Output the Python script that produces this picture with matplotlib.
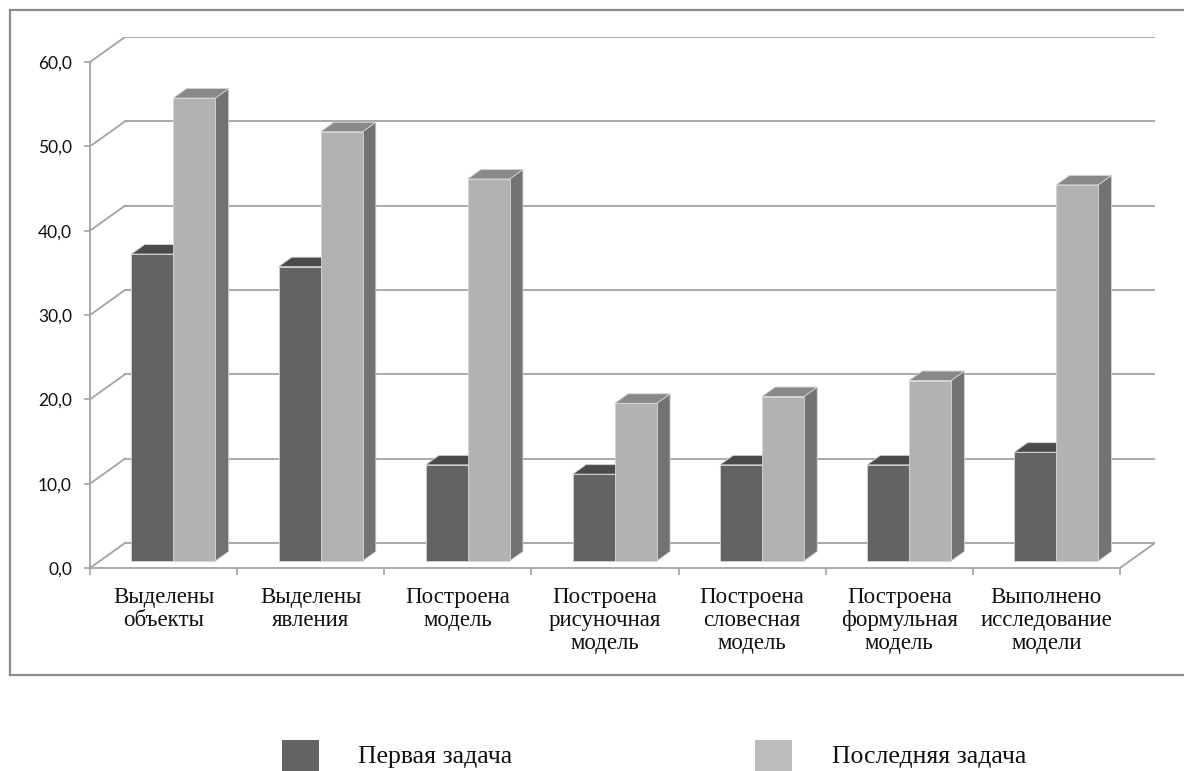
import matplotlib
matplotlib.use("Agg")
import matplotlib.pyplot as plt
from matplotlib.patches import Polygon, Rectangle
from matplotlib.lines import Line2D

# categories and percentages for the two series
categories = [
    "Выделены\nобъекты",
    "Выделены\nявления",
    "Построена\nмодель",
    "Построена\nрисуночная\nмодель",
    "Построена\nсловесная\nмодель",
    "Построена\nформульная\nмодель",
    "Выполнено\nисследование\nмодели",
]
first_task = [36.4, 34.9, 11.4, 10.3, 11.4, 11.4, 12.9]
last_task = [54.9, 50.9, 45.3, 18.7, 19.5, 21.4, 44.6]
series_names = ["Первая задача", "Последняя задача"]
y_ticks = [0, 10, 20, 30, 40, 50, 60]

W, H, DPI = 1184, 771, 100
n = len(categories)
px_x = 147.14          # pixels per category slot
px_y = 8.433           # pixels per value unit
depth = (35 / px_x, 25 / px_y)   # back wall offset in data units
bar_front, bar_back = 0.28, 0.66
bar_w = 0.2855

grid_col = "#a3a3a3"
faces = {
    0: ("#636363", "#4a4a4a", "#575757"),
    1: ("#b2b2b2", "#898989", "#737373"),
}

fig = plt.figure(figsize=(W / DPI, H / DPI), dpi=DPI)
left_px, bottom_px = 90, H - 568
ax = fig.add_axes([left_px / W, bottom_px / H,
                   (n + depth[0]) * px_x / W, (60 + depth[1]) * px_y / H])
ax.set_xlim(0, n + depth[0])
ax.set_ylim(0, 60 + depth[1])
ax.patch.set_visible(False)

# back wall gridlines with the diagonals from the front axis
for v in y_ticks:
    ax.plot([0, depth[0]], [v, v + depth[1]], color=grid_col, lw=1.3, zorder=1)
    ax.plot([depth[0], n + depth[0]], [v + depth[1], v + depth[1]],
            color=grid_col, lw=1.3, zorder=1)
ax.plot([n, n + depth[0]], [0, depth[1]], color=grid_col, lw=1.3, zorder=1)


def draw_bar(x0, h, cols):
    fx, fy = bar_front * depth[0], bar_front * depth[1]
    bx = (bar_back - bar_front) * depth[0]
    by = (bar_back - bar_front) * depth[1]
    xl, xr, yb, yt = x0 + fx, x0 + fx + bar_w, fy, fy + h
    front = [(xl, yb), (xr, yb), (xr, yt), (xl, yt)]
    top = [(xl, yt), (xr, yt), (xr + bx, yt + by), (xl + bx, yt + by)]
    side = [(xr, yb), (xr + bx, yb + by), (xr + bx, yt + by), (xr, yt)]
    for pts, c in ((side, cols[2]), (top, cols[1]), (front, cols[0])):
        ax.add_patch(Polygon(pts, closed=True, facecolor=c,
                             edgecolor="#d4d4d4", lw=0.6, zorder=3))


for i in range(n):
    start = i + 0.5 - bar_w
    draw_bar(start, first_task[i], faces[0])
    draw_bar(start + bar_w, last_task[i], faces[1])

# front axes
for s in ("top", "right"):
    ax.spines[s].set_visible(False)
ax.spines["left"].set_bounds(0, 60)
ax.spines["bottom"].set_bounds(0, n)
for s in ("left", "bottom"):
    ax.spines[s].set_color(grid_col)
    ax.spines[s].set_linewidth(1.3)

ax.set_yticks(y_ticks)
ax.set_yticklabels([f"{v:.1f}".replace(".", ",") for v in y_ticks],
                   fontfamily="Lato", fontsize=12.5, color="#111111")
ax.tick_params(axis="y", length=4, width=1.2, color=grid_col, pad=9)

ax.set_xticks(range(n + 1))
ax.set_xticklabels([])
ax.tick_params(axis="x", which="major", length=5, width=1.2, color=grid_col)
ax.set_xticks([i + 0.5 for i in range(n)], minor=True)
ax.set_xticklabels(categories, minor=True, fontfamily="Liberation Serif",
                   fontsize=16.5, color="#111111", linespacing=1.12,
                   multialignment="center")
ax.tick_params(axis="x", which="minor", length=0, pad=14)

# chart frame
frame_kw = dict(color="#8c8c8c", lw=1.6, transform=None)
fig.add_artist(Line2D([10, 10], [H - 10, H - 675], **frame_kw))
fig.add_artist(Line2D([10, W + 5], [H - 10, H - 10], **frame_kw))
fig.add_artist(Line2D([10, W + 5], [H - 675, H - 675], **frame_kw))

# legend below the frame
leg_cols = [faces[0][0], "#bcbcbc"]
for sx, tx, c, name in zip([282, 755], [358, 832], leg_cols, series_names):
    fig.add_artist(Rectangle((sx, H - 778), 37, 38, facecolor=c,
                             edgecolor="none", transform=None))
    fig.text(tx / W, (H - 757) / H, name, fontfamily="Liberation Serif",
             fontsize=18.5, va="center", ha="left", color="#111111")

fig.savefig("out.png", dpi=DPI)
